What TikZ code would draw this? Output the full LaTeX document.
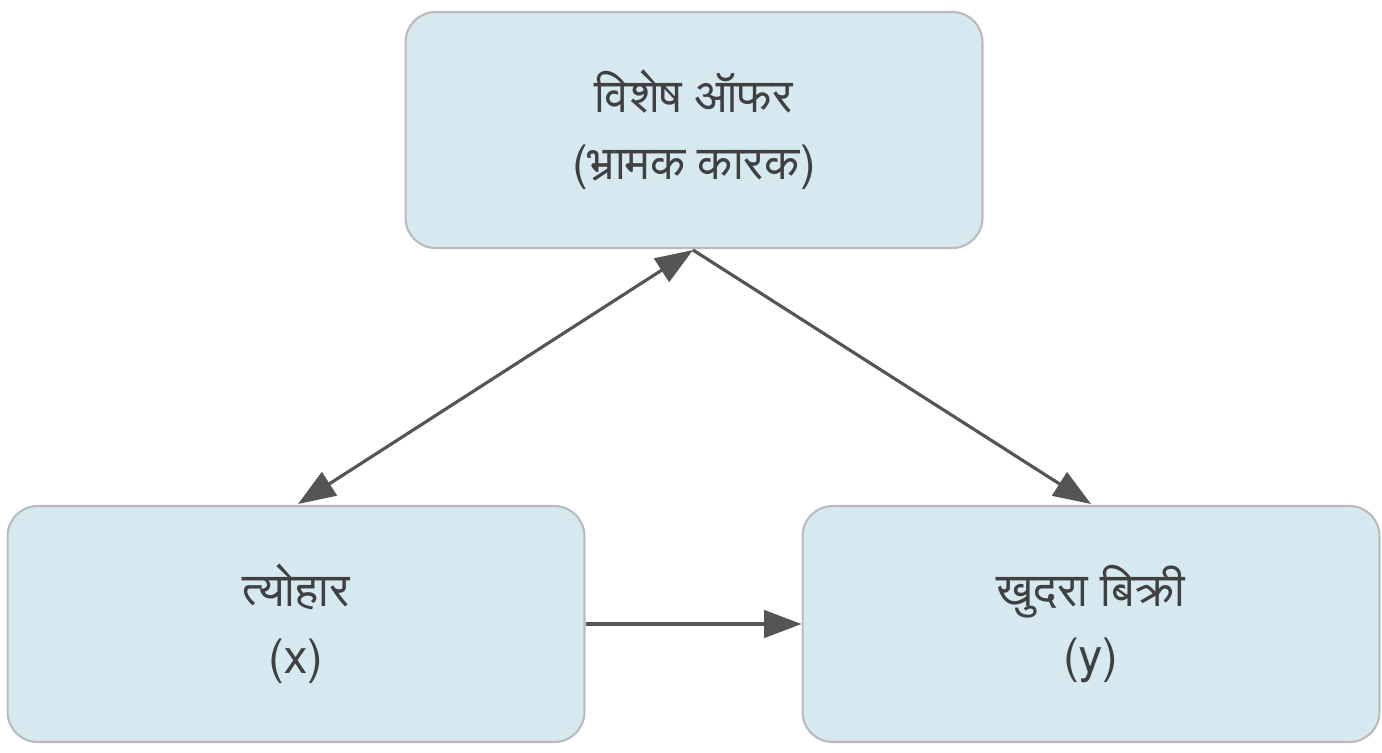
\documentclass[tikz,border=0pt]{standalone}
\usepackage{fontspec}
\setmainfont{Noto Sans}
\IfFontExistsTF{FreeSans}{\newfontfamily\dev[Script=Devanagari]{FreeSans}}{\newfontfamily\dev{Noto Sans}}
\usetikzlibrary{arrows.meta}
\definecolor{boxfill}{HTML}{D6E8F0}
\definecolor{boxline}{HTML}{BBBBBB}
\definecolor{arr}{HTML}{555555}
\begin{document}
\begin{tikzpicture}[x=0.02cm,y=-0.02cm,
 box/.style={draw=boxline,line width=1.2pt,fill=boxfill,rounded corners=0.6cm,minimum width=11.54cm,minimum height=4.72cm,align=center,text=black!75,font=\dev\fontsize{27}{38}\selectfont},
 con/.style={draw=arr,line width=1.8pt,-{Triangle[length=0.75cm,width=0.55cm]}}]
\useasboundingbox (0,0) rectangle (1382,752);
\node[box] (top) at (694,130) {विशेष ऑफर\\(भ्रामक कारक)};
\node[box] (left) at (296,624) {त्योहार\\(x)};
\node[box] (right) at (1091,624) {खुदरा बिक्री\\(y)};
\coordinate (tb) at (693,250);
\coordinate (la) at (298,504);
\coordinate (ra) at (1091,504);
\draw[con,{Triangle[length=0.75cm,width=0.55cm]}-{Triangle[length=0.75cm,width=0.55cm]}] (la) -- (tb);
\draw[con] (tb) -- (ra);
\draw[con] (left.east) -- (right.west);
\end{tikzpicture}
\end{document}
